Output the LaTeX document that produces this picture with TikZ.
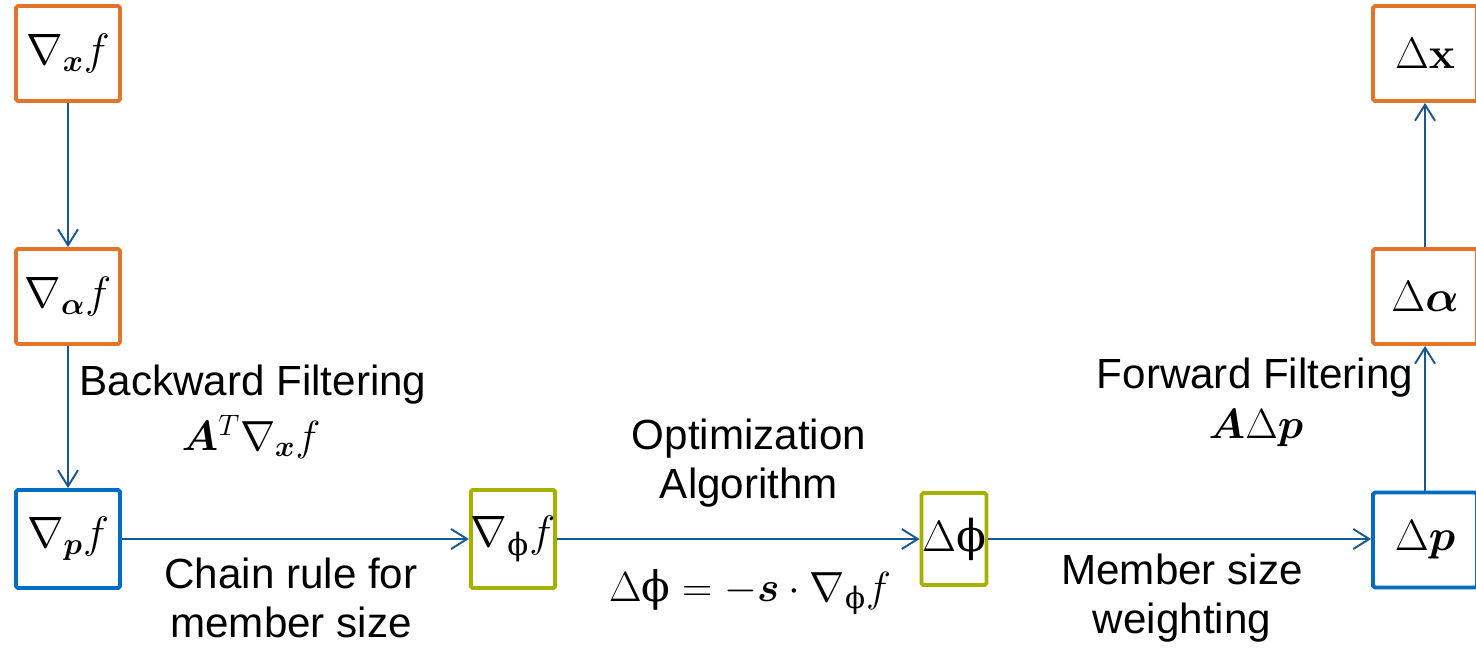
\documentclass[tikz,border=0pt]{standalone}
\usepackage{fix-cm}
\usepackage{amsmath,bm}
\usepackage[no-math]{fontspec}
\setmainfont{Liberation Sans}
\newfontfamily\phifont{DejaVu Serif}
\usetikzlibrary{arrows.meta}

\definecolor{boxorange}{RGB}{228,116,40}
\definecolor{boxblue}{RGB}{0,108,196}
\definecolor{boxolive}{RGB}{166,176,0}
\definecolor{linkblue}{RGB}{24,88,150}
\newcommand{\vphi}{\text{\phifont ϕ}}

\begin{document}
\begin{tikzpicture}[x=0.02cm, y=-0.02cm,
	var/.style={draw=#1, line width=2.2pt, rounded corners=1pt, inner sep=0pt,
		minimum width=2.08cm, minimum height=1.9cm, font=\fontsize{25}{28}\selectfont},
	link/.style={linkblue, line width=1.1pt, -{Straight Barb[length=0.32cm, width=0.4cm]}},
	lbl/.style={align=center, font=\fontsize{24}{27.5}\selectfont}]

\useasboundingbox (0,0) rectangle (1476,647);

% gradients, left column and bottom row
\node[var=boxorange] (gradx) at (68,53.5) {$\nabla_{\bm{x}} f$};
\node[var=boxorange] (grada) at (68,296.5) {$\nabla_{\bm{\alpha}} f$};
\node[var=boxblue, minimum height=1.96cm] (gradp) at (68,539) {$\nabla_{\bm{p}} f$};
\node[var=boxolive, minimum width=1.68cm, minimum height=1.96cm] (gradphi) at (513,539) {$\nabla_{\vphi} f$};

% updates, bottom row and right column
\node[var=boxolive, minimum width=1.3cm, minimum height=1.84cm] (dphi) at (954,539) {$\Delta\vphi$};
\node[var=boxblue] (dp) at (1425,540) {$\Delta\bm{p}$};
\node[var=boxorange] (dalpha) at (1425,296.5) {$\Delta\bm{\alpha}$};
\node[var=boxorange] (dx) at (1425,53.5) {$\Delta\mathbf{x}$};

\draw[link] (gradx) -- (grada);
\draw[link] (grada) -- (gradp);
\draw[link] (gradp) -- (gradphi);
\draw[link] (gradphi) -- (dphi);
\draw[link] (dphi) -- (dp.west |- dphi);
\draw[link] (dp) -- (dalpha);
\draw[link] (dalpha) -- (dx);

% labels
\node[lbl] (bwdlbl) at (253,385) {Backward Filtering};
\node[lbl] (bwdeq) at (251,437) {$\bm{A}^{T}\nabla_{\bm{x}} f$};
\node[lbl] (chainlbl) at (291,598) {Chain rule for\\member size};
\node[lbl] (optlbl) at (749,463) {Optimization\\Algorithm};
\node[lbl] (opteq) at (750,592) {$\Delta\vphi = -\bm{s}\cdot\nabla_{\vphi} f$};
\node[lbl] (memberlbl) at (1182,598) {Member size\\weighting};
\node[lbl] (fwdlbl) at (1255,378) {Forward Filtering};
\node[lbl] (fwdeq) at (1256,428) {$\bm{A}\Delta\bm{p}$};

\end{tikzpicture}
\end{document}
